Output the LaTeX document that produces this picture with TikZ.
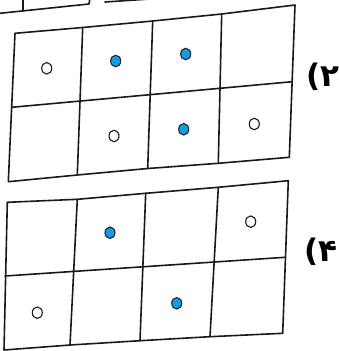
\documentclass[tikz,border=0pt]{standalone}
\usepackage{fontspec}
\usetikzlibrary{shapes.geometric}
\newfontfamily\perfont{DejaVu Sans}
\definecolor{dotblue}{RGB}{20,155,230}
\tikzset{
  gridline/.style={line width=1.6pt, line cap=round, line join=round, black!90},
  opendot/.style={ellipse, draw=black!90, line width=1.1pt, fill=white, minimum width=10pt, minimum height=11.5pt, inner sep=0pt},
  bluedot/.style={ellipse, draw=black!85, line width=1.1pt, fill=dotblue, minimum width=10pt, minimum height=11.5pt, inner sep=0pt},
  lbl/.style={font=\perfont\bfseries\fontsize{31}{31}\selectfont, inner sep=0pt}
}
\begin{document}
\begin{tikzpicture}[x=1pt, y=-1pt]
\useasboundingbox (0,0) rectangle (338,351);
\clip (0,0) rectangle (338,351);
% remnant of previous grid
\coordinate (r1) at (-2,13.5);
\coordinate (r2) at (89,4);
\coordinate (r3) at (90,-2);
\coordinate (r4) at (22.7,11);
\coordinate (r5) at (22.7,-2);
\coordinate (r6) at (105,2);
\coordinate (r7) at (165,-2);
\draw[gridline] (r1) -- (r2) -- (r3);
\draw[gridline] (r4) -- (r5);
\draw[gridline] (r6) -- (r7);
% top grid
\coordinate (aTL) at (15,33.3);
\coordinate (aTR) at (295,5);
\coordinate (aBR) at (289.3,157.3);
\coordinate (aBL) at (8.3,181.7);
\coordinate (aT1) at (82.7,27.5);
\coordinate (aT2) at (152.7,21);
\coordinate (aT3) at (221.7,14);
\coordinate (aB1) at (77.3,175);
\coordinate (aB2) at (147.7,168.5);
\coordinate (aB3) at (218.3,163.3);
\coordinate (aML) at (11.7,107.3);
\coordinate (aMR) at (292.3,81.7);
\draw[gridline] (aTL) -- (aT1) -- (aT2) -- (aT3) -- (aTR) -- (aBR) -- (aB3) -- (aB2) -- (aB1) -- (aBL) -- cycle;
\draw[gridline] (aT1) -- (aB1);
\draw[gridline] (aT2) -- (aB2);
\draw[gridline] (aT3) -- (aB3);
\draw[gridline] (aML) -- (aMR);
\node[opendot] (a11) at (46.7,68.3) {};
\node[bluedot] (a12) at (115.7,61) {};
\node[bluedot] (a13) at (185.7,54) {};
\node[opendot] (a22) at (114,136) {};
\node[bluedot] (a23) at (183.7,129.3) {};
\node[opendot] (a24) at (254.3,124) {};
\node[lbl, anchor=west] (la) at (306,77) {(۲};
% bottom grid
\coordinate (bTL) at (7.3,202.3);
\coordinate (bTR) at (288.3,180.7);
\coordinate (bBR) at (282.7,333.3);
\coordinate (bBL) at (4,350);
\coordinate (bT1) at (77.3,199.3);
\coordinate (bT2) at (145.7,193.3);
\coordinate (bT3) at (218.3,187.3);
\coordinate (bB1) at (70,345);
\coordinate (bB2) at (140,340.7);
\coordinate (bB3) at (210,336.7);
\coordinate (bML) at (5,276);
\coordinate (bMR) at (285,257.3);
\draw[gridline] (bTL) -- (bT1) -- (bT2) -- (bT3) -- (bTR) -- (bBR) -- (bB3) -- (bB2) -- (bB1) -- (bBL) -- cycle;
\draw[gridline] (bT1) -- (bB1);
\draw[gridline] (bT2) -- (bB2);
\draw[gridline] (bT3) -- (bB3);
\draw[gridline] (bML) -- (bMR);
\node[bluedot] (b12) at (110,232.7) {};
\node[opendot] (b14) at (250.7,221.7) {};
\node[opendot] (b21) at (37.3,312.7) {};
\node[bluedot] (b23) at (176.7,303.3) {};
\node[lbl, anchor=west] (lb) at (304,252) {(۴};
\end{tikzpicture}
\end{document}
